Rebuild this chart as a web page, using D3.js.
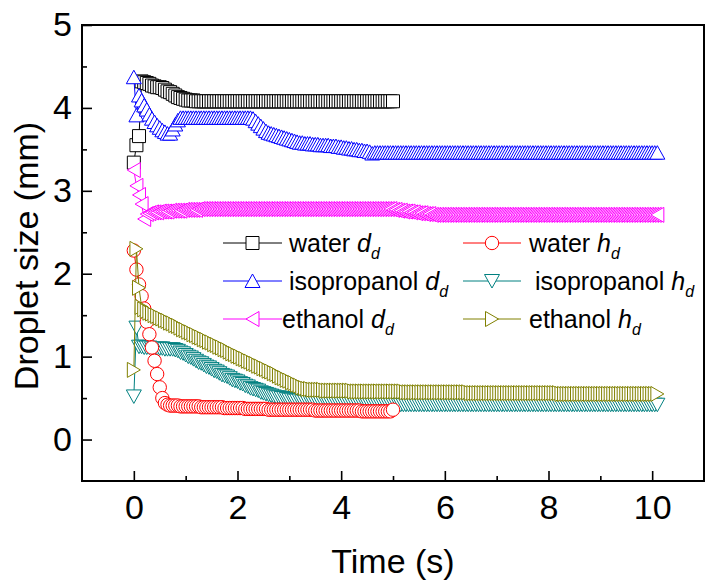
<!DOCTYPE html>
<html>
<head>
<meta charset="utf-8">
<script src="https://cdn.jsdelivr.net/npm/d3@7"></script>
<style>
  body { margin: 0; background: #fff; }
  svg { display: block; }
  text { font-family: "Liberation Sans", Arial, Helvetica, sans-serif; fill: #000; }
</style>
</head>
<body>
<svg id="chart" width="705" height="588"></svg>
<script>
// Droplet diameter (d_d) and height (h_d) recorded frame by frame, one value every FRAME_STEP seconds
const FRAME_STEP = 0.05;

const waterD = [
  3.34,3.55,3.66,4.32,4.31,4.30,4.29,4.27,4.26,4.25,4.25,4.24,4.22,4.20,4.19,4.17,4.15,4.13,4.12,4.11,
  4.10,4.09,4.09,4.09,4.08,4.08,4.08,4.08,4.08,4.08,4.08,4.08,4.08,4.08,4.08,4.08,4.08,4.08,4.08,4.08,
  4.08,4.08,4.08,4.08,4.08,4.08,4.08,4.08,4.08,4.08,4.08,4.08,4.08,4.08,4.08,4.08,4.08,4.08,4.08,4.08,
  4.08,4.08,4.08,4.08,4.08,4.08,4.08,4.08,4.08,4.08,4.08,4.08,4.08,4.08,4.08,4.08,4.08,4.08,4.08,4.08,
  4.08,4.08,4.08,4.08,4.08,4.08,4.08,4.08,4.08,4.08,4.08,4.08,4.08,4.08,4.08,4.08,4.08,4.08,4.08,4.08,
  4.08
];

const waterH = [
  2.28,2.05,1.87,1.73,1.58,1.42,1.27,1.11,0.95,0.79,0.63,0.50,0.44,0.42,0.41,0.41,0.41,0.41,0.40,0.40,
  0.40,0.40,0.40,0.40,0.40,0.40,0.39,0.39,0.39,0.39,0.39,0.39,0.39,0.39,0.39,0.38,0.38,0.38,0.38,0.38,
  0.38,0.38,0.38,0.37,0.37,0.37,0.37,0.37,0.37,0.37,0.37,0.37,0.36,0.36,0.36,0.36,0.36,0.36,0.36,0.36,
  0.36,0.36,0.36,0.36,0.36,0.36,0.36,0.36,0.36,0.36,0.35,0.35,0.35,0.35,0.35,0.35,0.35,0.35,0.35,0.35,
  0.35,0.35,0.35,0.35,0.35,0.35,0.35,0.35,0.34,0.34,0.34,0.34,0.34,0.34,0.34,0.34,0.34,0.34,0.34,0.34,
  0.36
];

const isopropanolD = [
  4.37,3.91,4.15,4.09,4.03,3.98,3.92,3.87,3.83,3.79,3.76,3.73,3.71,3.69,3.69,3.74,3.80,3.85,3.88,3.88,
  3.88,3.88,3.88,3.88,3.88,3.88,3.88,3.88,3.88,3.88,3.88,3.88,3.88,3.88,3.88,3.88,3.88,3.88,3.88,3.88,
  3.88,3.88,3.88,3.88,3.88,3.88,3.87,3.84,3.81,3.78,3.75,3.72,3.70,3.69,3.68,3.67,3.66,3.65,3.64,3.63,
  3.62,3.61,3.60,3.59,3.58,3.58,3.57,3.57,3.57,3.56,3.56,3.56,3.55,3.55,3.55,3.55,3.54,3.54,3.54,3.53,
  3.53,3.52,3.52,3.51,3.51,3.50,3.50,3.49,3.49,3.48,3.48,3.47,3.45,3.46,3.46,3.46,3.46,3.46,3.46,3.46,
  3.46,3.46,3.46,3.46,3.46,3.46,3.46,3.46,3.46,3.46,3.46,3.46,3.46,3.46,3.46,3.46,3.46,3.46,3.46,3.46,
  3.46,3.46,3.46,3.46,3.46,3.46,3.46,3.46,3.46,3.46,3.46,3.46,3.46,3.46,3.46,3.46,3.46,3.46,3.46,3.46,
  3.46,3.46,3.46,3.46,3.46,3.46,3.46,3.46,3.46,3.46,3.46,3.46,3.46,3.46,3.46,3.46,3.46,3.46,3.46,3.46,
  3.46,3.46,3.46,3.46,3.46,3.46,3.46,3.46,3.46,3.46,3.46,3.46,3.46,3.46,3.46,3.46,3.46,3.46,3.46,3.46,
  3.46,3.46,3.46,3.46,3.46,3.46,3.46,3.46,3.46,3.46,3.46,3.46,3.46,3.46,3.46,3.46,3.46,3.46,3.46,3.46,
  3.46,3.46,3.46
];

const isopropanolH = [
  0.52,1.35,1.12,1.12,1.11,1.11,1.11,1.10,1.10,1.10,1.10,1.10,1.09,1.09,1.09,1.09,1.08,1.07,1.05,1.04,
  1.02,1.00,0.99,0.97,0.95,0.93,0.92,0.90,0.88,0.87,0.85,0.83,0.82,0.80,0.78,0.77,0.76,0.74,0.72,0.71,
  0.70,0.68,0.67,0.65,0.64,0.62,0.61,0.60,0.59,0.57,0.56,0.55,0.54,0.53,0.52,0.51,0.51,0.50,0.50,0.49,
  0.48,0.48,0.47,0.47,0.47,0.46,0.46,0.46,0.46,0.45,0.45,0.45,0.45,0.45,0.45,0.44,0.44,0.44,0.44,0.44,
  0.44,0.44,0.44,0.44,0.44,0.44,0.44,0.44,0.44,0.44,0.43,0.43,0.43,0.43,0.43,0.43,0.43,0.43,0.43,0.43,
  0.43,0.43,0.43,0.42,0.42,0.42,0.42,0.42,0.42,0.42,0.42,0.42,0.42,0.42,0.42,0.42,0.42,0.42,0.42,0.42,
  0.42,0.42,0.42,0.42,0.42,0.42,0.42,0.42,0.42,0.42,0.42,0.42,0.42,0.42,0.42,0.42,0.42,0.42,0.42,0.42,
  0.42,0.42,0.42,0.42,0.42,0.42,0.42,0.42,0.42,0.42,0.42,0.42,0.42,0.42,0.42,0.42,0.42,0.42,0.42,0.42,
  0.42,0.42,0.42,0.42,0.42,0.42,0.42,0.42,0.42,0.42,0.42,0.42,0.42,0.42,0.42,0.42,0.42,0.42,0.42,0.42,
  0.42,0.42,0.42,0.42,0.42,0.42,0.42,0.42,0.42,0.42,0.42,0.42,0.42,0.42,0.42,0.42,0.42,0.42,0.42,0.42,
  0.42,0.42,0.42
];

const ethanolD = [
  3.25,3.06,2.95,2.84,2.66,2.72,2.73,2.74,2.74,2.74,2.75,2.75,2.75,2.75,2.76,2.76,2.76,2.76,2.76,2.77,
  2.77,2.77,2.77,2.77,2.77,2.78,2.78,2.78,2.78,2.78,2.78,2.78,2.78,2.78,2.78,2.78,2.78,2.78,2.78,2.78,
  2.78,2.78,2.78,2.78,2.78,2.78,2.78,2.78,2.78,2.78,2.78,2.78,2.78,2.78,2.78,2.78,2.78,2.78,2.78,2.78,
  2.78,2.78,2.78,2.78,2.78,2.78,2.78,2.78,2.78,2.78,2.78,2.78,2.78,2.78,2.78,2.78,2.78,2.78,2.78,2.78,
  2.78,2.78,2.78,2.78,2.78,2.78,2.78,2.78,2.78,2.78,2.78,2.78,2.78,2.78,2.78,2.78,2.78,2.78,2.78,2.78,
  2.77,2.77,2.76,2.76,2.75,2.75,2.75,2.74,2.74,2.73,2.73,2.73,2.72,2.72,2.72,2.71,2.71,2.71,2.71,2.71,
  2.71,2.71,2.71,2.71,2.71,2.71,2.71,2.71,2.71,2.71,2.71,2.71,2.71,2.71,2.71,2.71,2.71,2.71,2.71,2.71,
  2.71,2.71,2.71,2.71,2.71,2.71,2.71,2.71,2.71,2.71,2.71,2.71,2.71,2.71,2.71,2.71,2.71,2.71,2.71,2.71,
  2.71,2.71,2.71,2.71,2.71,2.71,2.71,2.71,2.71,2.71,2.71,2.71,2.71,2.71,2.71,2.71,2.71,2.71,2.71,2.71,
  2.71,2.71,2.71,2.71,2.71,2.71,2.71,2.71,2.71,2.71,2.71,2.71,2.71,2.71,2.71,2.71,2.71,2.71,2.71,2.71,
  2.71,2.71,2.71
];

const ethanolH = [
  0.84,2.30,1.83,1.60,1.57,1.55,1.53,1.52,1.50,1.49,1.47,1.46,1.44,1.43,1.41,1.40,1.38,1.37,1.35,1.33,
  1.32,1.30,1.29,1.27,1.26,1.24,1.23,1.21,1.20,1.18,1.17,1.15,1.14,1.12,1.11,1.09,1.08,1.06,1.04,1.03,
  1.01,1.00,0.98,0.97,0.95,0.94,0.92,0.91,0.89,0.88,0.86,0.85,0.83,0.82,0.80,0.79,0.77,0.75,0.74,0.72,
  0.71,0.69,0.68,0.66,0.65,0.63,0.62,0.61,0.61,0.60,0.60,0.60,0.60,0.60,0.59,0.59,0.59,0.59,0.59,0.59,
  0.59,0.59,0.59,0.59,0.59,0.58,0.58,0.58,0.58,0.58,0.58,0.58,0.58,0.58,0.58,0.58,0.58,0.58,0.58,0.58,
  0.58,0.58,0.58,0.58,0.58,0.57,0.57,0.57,0.57,0.57,0.57,0.57,0.57,0.57,0.57,0.57,0.57,0.57,0.57,0.57,
  0.57,0.57,0.57,0.57,0.57,0.57,0.57,0.57,0.57,0.57,0.56,0.56,0.56,0.56,0.56,0.56,0.56,0.56,0.56,0.56,
  0.56,0.56,0.56,0.56,0.56,0.56,0.56,0.56,0.56,0.56,0.56,0.56,0.56,0.56,0.56,0.56,0.56,0.56,0.56,0.56,
  0.56,0.56,0.56,0.56,0.56,0.55,0.55,0.55,0.55,0.55,0.55,0.55,0.55,0.55,0.55,0.55,0.55,0.55,0.55,0.55,
  0.55,0.55,0.55,0.55,0.55,0.55,0.55,0.55,0.55,0.55,0.55,0.55,0.55,0.55,0.55,0.55,0.55,0.55,0.55,0.55,
  0.55,0.55,0.55
];

const xTicks = [0, 2, 4, 6, 8, 10];
const xMinorTicks = [1, 3, 5, 7, 9];
const yTicks = [0, 1, 2, 3, 4, 5];
const yMinorTicks = [0.5, 1.5, 2.5, 3.5, 4.5];

const series = [
  { key: "waterD", liquid: "water",       sym: "d", color: "#000000", shape: "square", values: waterD },
  { key: "waterH", liquid: "water",       sym: "h", color: "#ff0000", shape: "circle", values: waterH },
  { key: "isoD",   liquid: "isopropanol", sym: "d", color: "#0000ff", shape: "up",     values: isopropanolD },
  { key: "isoH",   liquid: "isopropanol", sym: "h", color: "#008080", shape: "down",   values: isopropanolH },
  { key: "ethD",   liquid: "ethanol",     sym: "d", color: "#ff00ff", shape: "left",   values: ethanolD },
  { key: "ethH",   liquid: "ethanol",     sym: "h", color: "#808000", shape: "right",  values: ethanolH }
];

// ---- layout ----
const plot = { left: 82, right: 704, top: 25, bottom: 481 };

const svg = d3.select("#chart");
const x = d3.scaleLinear().domain([-1, 11]).range([plot.left, plot.right]);
const y = d3.scaleLinear().domain([-0.5, 5]).range([plot.bottom, plot.top]);

// marker outlines, centred on the data point
function shapePath(shape) {
  switch (shape) {
    case "square": return "M-6.5,-6.5H6.5V6.5H-6.5Z";
    case "circle": { const p = d3.path(); p.arc(0, 0, 6.7, 0, 2 * Math.PI); p.closePath(); return p.toString(); }
    case "up":     return "M0,-7L7.5,6.5L-7.5,6.5Z";
    case "down":   return "M0,7L7.5,-6.5L-7.5,-6.5Z";
    case "left":   return "M-6.5,0L6.5,-7.5L6.5,7.5Z";
    case "right":  return "M6.5,0L-6.5,-7.5L-6.5,7.5Z";
  }
}

// ---- data layer ----
const dataLayer = svg.append("g").attr("class", "data");
const drawOrder = ["waterD", "isoD", "ethD", "isoH", "waterH", "ethH"];
const line = d3.line().x(d => x(d.t)).y(d => y(d.v));

drawOrder.forEach(k => {
  const s = series.find(d => d.key === k);
  const pts = s.values.map((v, i) => ({ t: i * FRAME_STEP, v }));
  const g = dataLayer.append("g").attr("class", "series " + s.key);
  g.append("path")
    .datum(pts)
    .attr("d", line)
    .attr("fill", "none")
    .attr("stroke", s.color)
    .attr("stroke-width", 1);
  g.selectAll("path.mk")
    .data(pts)
    .join("path")
    .attr("class", "mk")
    .attr("transform", d => `translate(${x(d.t)},${y(d.v)})`)
    .attr("d", shapePath(s.shape))
    .attr("fill", "#fff")
    .attr("stroke", s.color)
    .attr("stroke-width", 1);
});

// ---- axes ----
const fmt = d3.format("d");
const xAxis = svg.append("g")
  .attr("transform", `translate(0,${plot.bottom})`)
  .call(d3.axisBottom(x).tickValues(xTicks).tickFormat(fmt).tickSizeInner(-10).tickSizeOuter(0).tickPadding(14));
const xMinor = svg.append("g")
  .attr("transform", `translate(0,${plot.bottom})`)
  .call(d3.axisBottom(x).tickValues(xMinorTicks).tickSizeInner(-5).tickSizeOuter(0).tickFormat(""));
const yAxis = svg.append("g")
  .attr("transform", `translate(${plot.left},0)`)
  .call(d3.axisLeft(y).tickValues(yTicks).tickFormat(fmt).tickSizeInner(-10).tickSizeOuter(0).tickPadding(10));
const yMinor = svg.append("g")
  .attr("transform", `translate(${plot.left},0)`)
  .call(d3.axisLeft(y).tickValues(yMinorTicks).tickSizeInner(-5).tickSizeOuter(0).tickFormat(""));

[xAxis, xMinor, yAxis, yMinor].forEach(a => {
  a.select(".domain").remove();
  a.selectAll(".tick line").attr("stroke", "#000").attr("stroke-width", 1.6);
  a.selectAll(".tick text")
    .attr("font-size", "34px")
    .attr("font-family", "'Liberation Sans', Arial, sans-serif")
    .attr("fill", "#000");
});

// frame
svg.append("rect")
  .attr("x", plot.left).attr("y", plot.top)
  .attr("width", plot.right - plot.left).attr("height", plot.bottom - plot.top)
  .attr("fill", "none").attr("stroke", "#000").attr("stroke-width", 2);

// axis titles
svg.append("text")
  .attr("x", (plot.left + plot.right) / 2).attr("y", 573)
  .attr("text-anchor", "middle").attr("font-size", "34px")
  .text("Time (s)");
svg.append("text")
  .attr("transform", "translate(38,256) rotate(-90)")
  .attr("text-anchor", "middle").attr("font-size", "34px")
  .text("Droplet size (mm)");

// ---- legend: three rows, d_d in the left column, h_d in the right ----
const legendRows = [243, 281, 319];
const legendCols = [
  { x0: 223, x1: 282 },
  { x0: 463, x1: 521 }
];
const legendTextX = {
  waterD: 289, isoD: 289, ethD: 282,
  waterH: 529, isoH: 535, ethH: 529
};
const legend = svg.append("g").attr("class", "legend");
series.forEach((s, i) => {
  const row = Math.floor(i / 2), col = i % 2;
  const cy = legendRows[row], c = legendCols[col];
  const g = legend.append("g");
  g.append("line")
    .attr("x1", c.x0).attr("x2", c.x1).attr("y1", cy).attr("y2", cy)
    .attr("stroke", s.color).attr("stroke-width", 1);
  g.append("path")
    .attr("transform", `translate(${(c.x0 + c.x1) / 2},${cy})`)
    .attr("d", shapePath(s.shape))
    .attr("fill", "#fff").attr("stroke", s.color).attr("stroke-width", 1);
  const t = g.append("text")
    .attr("x", legendTextX[s.key]).attr("y", cy + 8.5)
    .attr("font-size", "25px");
  t.append("tspan").text(s.liquid + " ");
  t.append("tspan").attr("font-style", "italic").text(s.sym);
  t.append("tspan").attr("font-style", "italic").attr("font-size", "16px").attr("dy", 7).text("d");
});
</script>
</body>
</html>
